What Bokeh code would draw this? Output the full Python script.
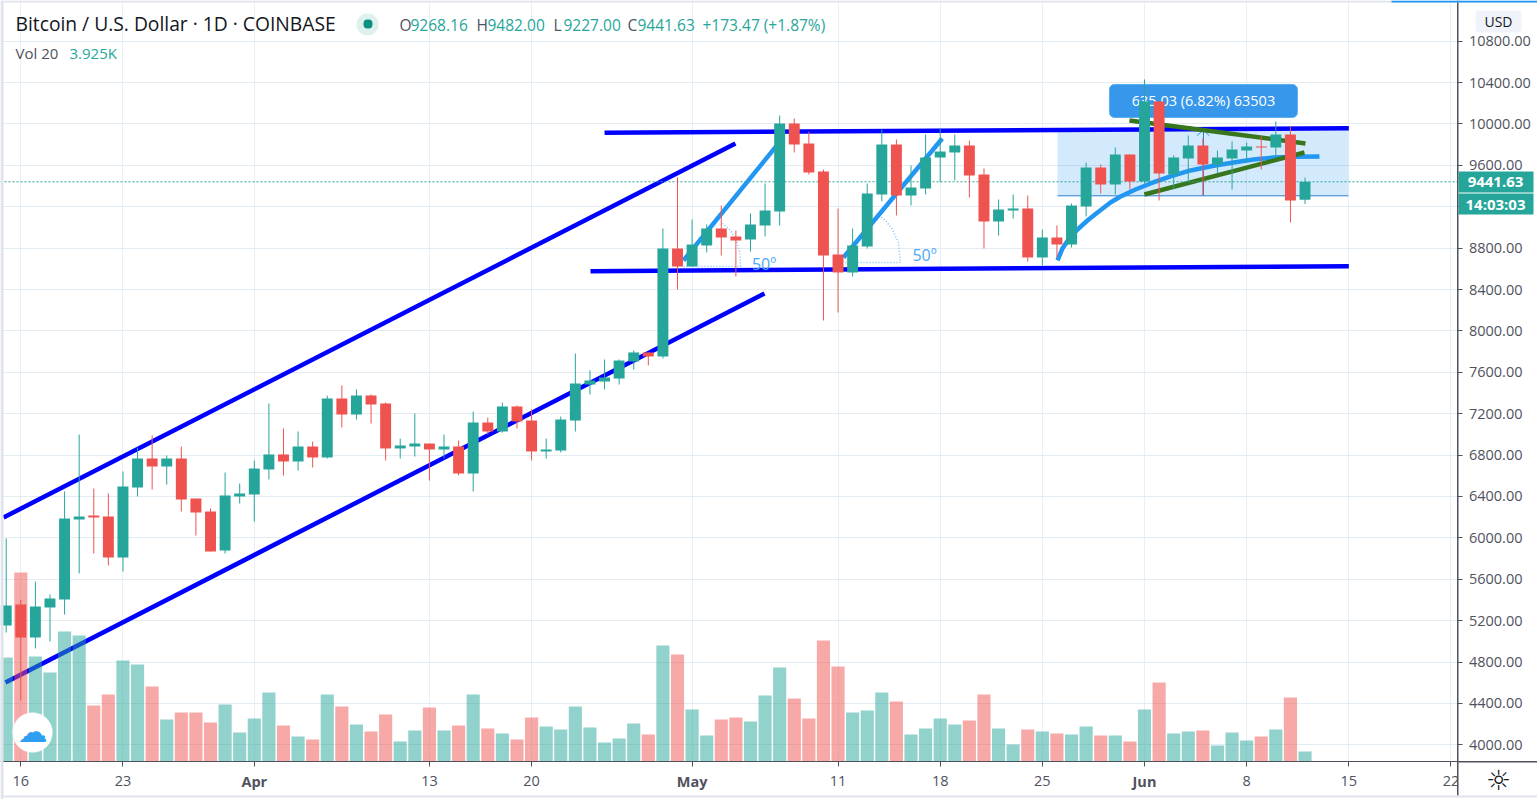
from bokeh.plotting import figure
from bokeh.models import (ColumnDataSource, Range1d, FixedTicker, NumeralTickFormatter,
                          Label, BoxAnnotation)
from bokeh.core.properties import value
from bokeh.embed import file_html
from bokeh.resources import INLINE

# ---- session data (day index 0 = 16 Mar) ----
days = list(range(-1, 89))
opens = [5153,5356,5037,5327,5404,6177,6216,6206,5810,6487,6767,6690,6767,6380,6255,5878,6400,6419,6661,6806,
         6738,6883,6777,7347,7192,7376,7299,6864,6883,6912,6854,6883,6622,7115,7028,7270,7134,6835,6844,7134,
         7482,7511,7540,7705,7792,7753,8797,8623,8826,8990,8913,8884,9019,9154,10005,9812,9541,8739,8565,8816,
         9319,9802,9309,9377,9676,9725,9792,9512,9058,9164,9183,8710,8903,8835,9203,9580,9415,9705,9444,10217,
         9512,9667,9792,9609,9667,9744,9782,9773,9898,9268.16]
highs = [5994,5400,5578,5453,6448,6999,6477,6429,6641,6873,6989,6796,6883,6380,6284,6632,6525,6748,7299,7057,
         7028,6931,7376,7473,7434,7386,7308,6960,7202,6912,6999,6941,7221,7163,7308,7279,7241,6960,7173,7782,
         7618,7724,7724,7811,7792,8990,9483,9077,9029,9212,8971,9135,9425,10082,10053,9927,9560,9183,8990,9425,
         9947,9850,9599,9898,9956,9898,9840,9570,9270,9319,9309,8980,9019,9232,9628,9609,9773,9705,10430,10217,
         9696,9889,9860,9744,9831,9821,9879,10024,9976,9482]
lows = [5085,4428,4931,4998,5259,5656,5849,5733,5675,6400,6467,6516,6255,6023,5868,5849,6332,6158,6564,6603,
        6651,6680,6767,7067,7144,7105,6748,6767,6786,6554,6767,6603,6448,6999,7018,7057,6748,6767,6825,7028,
        7386,7434,7482,7627,7666,7734,8400,8623,8758,8729,8526,8768,8913,9019,9725,9512,8101,8178,8526,8797,
        9251,9116,9212,9319,9435,9454,9290,8797,8922,9087,8671,8632,8710,8806,9106,9328,9319,9367,9425,9261,
        9377,9444,9309,9522,9367,9628,9560,9676,9048,9227]
closes = [5346,5037,5337,5414,6187,6206,6197,5810,6496,6767,6690,6767,6371,6245,5868,6409,6429,6670,6806,6738,
          6883,6777,7347,7192,7376,7289,6864,6893,6912,6854,6883,6622,7115,7028,7270,7125,6835,6854,7144,7492,
          7521,7550,7714,7792,7753,8797,8623,8835,8990,8903,8874,9029,9164,10005,9802,9531,8729,8565,8826,9328,
          9802,9309,9386,9676,9734,9792,9502,9058,9174,9183,8710,8903,8835,9212,9580,9415,9705,9444,10217,9522,
          9676,9792,9609,9676,9753,9782,9773,9898,9261,9441.63]
volumes = [40820,74180,41210,34930,51025,49455,21980,26300,39640,38070,29440,16485,19230,19230,15310,22370,11380,16880,27080,14130,
           9810,8635,26300,21590,14520,11775,18450,7850,12170,21195,12170,14130,26300,12950,10990,8635,17270,13740,12560,21590,
           13345,7460,9030,14915,10600,45530,42000,20410,10205,16485,17270,15700,25905,36900,24730,16880,47490,37290,19230,20020,
           27080,23550,10600,12950,16880,14520,16090,26300,12950,6670,12560,11775,10990,10600,13740,10205,10205,7850,20410,31010,
           10990,11775,12170,6280,11380,8240,9810,12560,25120,3925]

# ---- axis ticks ----
price_ticks = [4000,4400,4800,5200,5600,6000,6400,6800,7200,7600,8000,8400,8800,9200,9600,10000,10400,10800]
time_ticks = [0,7,16,28,35,46,56,63,70,77,84,91,98]
time_labels = ["16","23","","13","20","","11","18","25","","8","15","22"]
month_ticks = [16,46,77]
month_labels = ["Apr","May","Jun"]

# ---- drawings on the chart: [day index], [price] ----
channel_up_x, channel_up_y = [-1.185,48.97], [6197,9812]
channel_lo_x, channel_lo_y = [-1.05,50.96], [4602,8362]
resist_x, resist_y = [40.0,91.0], [9915,9959]
support_x, support_y = [39.04,91.0], [8578,8626]
leg1_x, leg1_y = [45.41,51.92], [8681,9812]
leg2_x, leg2_y = [56.37,63.14], [8710,9860]
angle1_x = [45.41,49.32,49.28,49.04,48.63,48.08]
angle1_y = [8623,8623,8748,8874,8971,9038]
angle2_x = [56.51,60.28,60.14,59.73,59.25,58.91]
angle2_y = [8661,8661,8855,8980,9067,9106]
curve_x = [71.04,71.38,71.79,72.41,73.09,73.78,74.67,75.36,76.38,77.41,78.78,80.15,81.66,83.10,84.47,85.83,87.34,88.99]
curve_y = [8681,8797,8884,8980,9067,9145,9241,9299,9367,9425,9493,9551,9594,9628,9657,9676,9683,9686]
tri_up_x, tri_up_y = [75.97,88.03], [10034,9812]
tri_lo_x, tri_lo_y = [76.99,87.96], [9319,9725]
measure_l, measure_r, measure_top, measure_bot, measure_mid = 71.04, 90.97, 9941, 9306, 81.04
measure_tag_l, measure_tag_r, measure_tag_top, measure_tag_bot, measure_tag_y = 74.6, 87.48, 10382, 10063, 10227
arrow_x, arrow_y = [80.6,81.04,81.45], [9888,9941,9885]
deg_x, deg_y, deg_txt = [50.1,61.1], [8644,8735], ["50º","50º"]
last_price = 9441.63

UP, DOWN = "#26a69a", "#ef5350"
FONT = "Open Sans"
GREY = "#50535e"
W, H = 1537, 799

p = figure(width=W, height=H, output_backend="svg", toolbar_location=None,
           x_range=Range1d(-1.391, 103.93), y_range=Range1d(3471.3, 11193.6), y_axis_location="right",
           min_border=0, outline_line_color=None, background_fill_color="white", border_fill_color="white")
p.extra_y_ranges = {"vol": Range1d(-14915, 298692)}

p.xaxis.ticker = FixedTicker(ticks=time_ticks)
p.xaxis.major_label_overrides = dict(zip(time_ticks, time_labels))
p.xaxis.fixed_location = 3838.5
p.yaxis.ticker = FixedTicker(ticks=price_ticks)
p.yaxis.formatter = NumeralTickFormatter(format="0.00")
p.yaxis.fixed_location = 98.48
p.yaxis.bounds = (3510, 11193)
for ax in (p.xaxis[0], p.yaxis[0]):
    ax.axis_line_color = GREY
    ax.major_tick_line_color = GREY
    ax.major_tick_out = 5
    ax.major_tick_in = 0
    ax.minor_tick_line_color = None
    ax.major_label_text_font = FONT
    ax.major_label_text_font_size = "14.5px"
    ax.major_label_text_color = GREY
p.xaxis.major_label_standoff = 9
p.yaxis.major_label_standoff = 6
p.xgrid.ticker = FixedTicker(ticks=time_ticks)
p.ygrid.ticker = FixedTicker(ticks=price_ticks)
p.xgrid.grid_line_color = "#e9f0f5"
p.ygrid.grid_line_color = "#e3ecf3"
p.xgrid.level = "image"
p.ygrid.level = "image"


def box(l, r, t, b, color, radius=0, line=None, level="annotation"):
    p.add_layout(BoxAnnotation(left=l, right=r, top=t, bottom=b, left_units="canvas", right_units="canvas",
                               top_units="canvas", bottom_units="canvas", fill_color=color, fill_alpha=1,
                               line_color=line, border_radius=radius, level=level, editable=False))


def label(x, y, txt, color=GREY, size=14, align="left", style="normal", font=FONT, x_units="canvas"):
    p.add_layout(Label(x=x, y=y, x_units=x_units, y_units="canvas", text=txt, text_color=color,
                       text_font=font, text_font_size=f"{size}px", text_align=align,
                       text_baseline="middle", text_font_style=style))


# grid stops at the scales
box(1458, W, 0, H, "white", level="underlay")
box(0, W, 762, H, "white", level="underlay")

# price-range box
p.quad(left=[measure_l], right=[measure_r], top=[measure_top], bottom=[measure_bot],
       fill_color="#2196f3", fill_alpha=0.2, line_color=None)
p.line([measure_l, measure_r], [measure_bot, measure_bot], line_color="#2a7fd0", line_width=1)
p.line([measure_mid, measure_mid], [measure_bot, measure_top], line_color="#2a7fd0", line_width=1)
p.line(arrow_x, arrow_y, line_color="#2196f3", line_width=1)

# drawings
for xs, ys in [(channel_up_x, channel_up_y), (channel_lo_x, channel_lo_y), (resist_x, resist_y), (support_x, support_y)]:
    p.line(xs, ys, line_color="#0000ff", line_width=4.5)
for xs, ys in [(leg1_x, leg1_y), (leg2_x, leg2_y)]:
    p.line(xs, ys, line_color="#2196f3", line_width=4.5)
for xs, ys in [(angle1_x, angle1_y), (angle2_x, angle2_y)]:
    p.line(xs, ys, line_color="#7cc0f7", line_width=1.5, line_dash="1 2")
p.text(deg_x, deg_y, text=deg_txt, text_color="#4da8f5", text_font=value(FONT), text_font_size="16px",
       text_baseline="middle")
p.line(curve_x, curve_y, line_color="#2196f3", line_width=4.5)
for xs, ys in [(tri_up_x, tri_up_y), (tri_lo_x, tri_lo_y)]:
    p.line(xs, ys, line_color="#38761d", line_width=4.5)
p.quad(left=[measure_tag_l], right=[measure_tag_r], top=[measure_tag_top], bottom=[measure_tag_bot],
       fill_color="#3697eb", line_color="#5aaef0", border_radius=5)
p.text([measure_mid], [measure_tag_y], text=["635.03 (6.82%) 63503"], text_color="white",
       text_font=value(FONT), text_font_size="14.5px", text_align="center", text_baseline="middle")
p.line([-1.391, 98.48], [last_price, last_price], line_color=UP, line_width=1, line_dash="2 2")

# volume
colors = [UP if c >= o else DOWN for o, c in zip(opens, closes)]
src = ColumnDataSource(dict(d=days, o=opens, h=highs, l=lows, c=closes, v=volumes, col=colors,
                            top=[max(a, b) for a, b in zip(opens, closes)],
                            bot=[min(a, b) for a, b in zip(opens, closes)]))
p.vbar(x="d", top="v", bottom=0, width=0.9, source=src, y_range_name="vol",
       fill_color="col", fill_alpha=0.5, line_color=None)
# candles
p.segment(x0="d", x1="d", y0="l", y1="h", source=src, line_color="col", line_width=1)
p.vbar(x="d", top="top", bottom="bot", width=0.75, source=src, fill_color="col", line_color=None)

# ---- interface parts, placed in canvas pixels ----
box(1458, W, 762, 795, "white")            # clips the last time label at the price scale
box(1457, 1458, 0, 795, GREY)
box(1458, W, 761, 762, GREY)
box(0, 3, 0, H, "#e0e3eb")
box(0, W, 0, 2, "#e0e3eb")
box(1391, W, 0, 2, "#2196f3")
box(0, W, 795, 797, "#e0e3eb")

label(15, 23, "Bitcoin / U.S. Dollar · 1D · COINBASE", color="#131722", size=19.25)
box(356, 378, 13, 35, "#dff1ee", radius=11)
box(363, 372, 19, 28, "#0b8f7f", radius=4)
for x, t, c in [(399,"O",GREY),(410,"9268.16",UP),(476,"H",GREY),(487,"9482.00",UP),(553,"L",GREY),
                (563,"9227.00",UP),(627,"C",GREY),(637,"9441.63",UP),(702,"+173.47 (+1.87%)",UP)]:
    label(x, 24, t, color=c, size=15.5)
label(15, 52, "Vol 20", color=GREY, size=15)
label(69, 52, "3.925K", color=UP, size=15)

box(1475, 1521, 10, 32, "#f0f3fa", radius=4)
label(1498, 21, "USD", color="#131722", size=14, align="center")
box(1458, 1533, 171, 192, UP)
box(1458, 1533, 193, 214, UP)
label(1495, 181.5, "9441.63", color="white", size=15, align="center", style="bold")
label(1495, 203.5, "14:03:03", color="white", size=15, align="center", style="bold")

for d, t in zip(month_ticks, month_labels):
    label(d, 781, t, color=GREY, size=14.5, align="center", style="bold", x_units="data")

box(12, 52, 712, 752, "white", radius=20, line="#e0e3eb")
label(32, 731, "☁", color="#2e9ef0", size=30, align="center", font="DejaVu Sans")
label(1498, 780, "☼", color="#131722", size=28, align="center", font="DejaVu Sans")

open("out.html", "w").write(file_html(p, INLINE))
